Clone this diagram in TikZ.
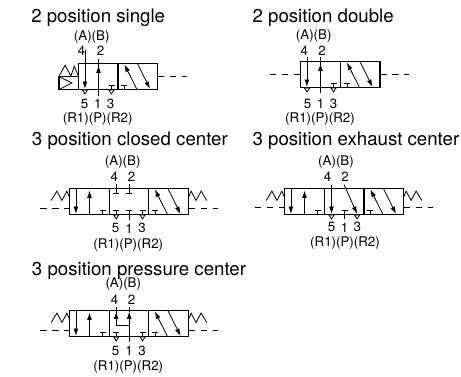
\documentclass[tikz,border=0pt]{standalone}
\usepackage{fontspec}
\setmainfont{TeX Gyre Heros}
\usetikzlibrary{arrows.meta}

\tikzset{
	body/.style={draw=black, line width=0.8pt},
	port/.style={draw=black, line width=0.6pt},
	flow/.style={port, -{Latex[length=5.5pt,width=3.6pt]}},
	pilot/.style={draw=black, line width=0.6pt, dash pattern=on 5pt off 4pt},
	title/.style={anchor=base west, inner sep=0pt, font=\fontsize{14pt}{16pt}\selectfont},
	portlabel/.style={inner sep=0pt, font=\fontsize{10pt}{12pt}\selectfont},
	pics/tee/.style={code={
		\draw[port] (-3,21.5) -- (3,21.5) (0,21.5) -- (0,26);
	}},
	pics/vent/.style={code={
		\draw[port, fill=white] (-2.6,26.4) -- (2.6,26.4) -- (0,30.4) -- cycle;
	}},
	pics/straightcell/.style={code={
		\draw[flow] (6.4,0) -- (6.4,25.4);
		\draw[flow] (20,26) -- (20,2);
		\pic at (33,0) {tee};
	}},
	pics/crosscell/.style={code={
		\pic at (6.4,0) {tee};
		\draw[flow] (19,26) -- (6.4,1);
		\draw[flow] (19.4,0) -- (32,25.4);
	}},
	pics/springleft/.style={code={
		\draw[port] (0,12) -- (5.7,2.6) -- (10.7,12) -- (15.7,2.6) -- (18.3,9);
	}},
	pics/springright/.style={code={
		\draw[port] (0,9) -- (2.6,2.6) -- (7.6,12) -- (12.6,2.6) -- (18.3,12);
	}}
}

\begin{document}
\begin{tikzpicture}[x=0.75pt, y=-0.75pt]
	\useasboundingbox (0,0) rectangle (461,376);

	% --- 2 position single ---
	\node[title] (titleA) at (31,22.7) {2 position single};
	\begin{scope}[shift={(78.5,63.5)}]
		\draw[body] (0,0) rectangle (79,26);
		\draw[body] (39.5,0) -- (39.5,26);
		\pic {straightcell};
		\pic at (39.5,0) {crosscell};
		\draw[port] (6.4,-14) -- (6.4,0);
		\draw[port] (20,-5) -- (20,32);
		\pic at (6.4,0) {vent};
		\pic at (33,0) {vent};
		% solenoid
		\draw[body] (-19.5,12.7) rectangle (0,26);
		\draw[port] (-19,13.4) -- (-6.6,19.4) -- (-19,26);
		\draw[port] (-19.5,12.7) -- (-13.3,1.7) -- (-7.6,12.7) -- (-4.3,2.7) -- (0,12.7);
		\draw[pilot] (79,12.7) -- (108,12.7);
	\end{scope}
	\node[portlabel] (aA) at (91.7,36.7) {(A)(B)};
	\node[portlabel] (aFour) at (81.7,51) {4};
	\node[portlabel] (aTwo) at (100.7,51) {2};
	\node[portlabel] (aFive) at (84.5,104) {5};
	\node[portlabel] (aOne) at (97.9,104) {1};
	\node[portlabel] (aThree) at (110.5,104) {3};
	\node[portlabel] (aR) at (97.7,119.3) {(R1)(P)(R2)};

	% --- 2 position double ---
	\node[title] (titleB) at (252.3,22.7) {2 position double};
	\begin{scope}[shift={(300.5,61.5)}]
		\draw[body] (0,0) rectangle (79.5,26);
		\draw[body] (40,0) -- (40,26);
		\pic {straightcell};
		\pic at (40,0) {crosscell};
		\draw[port] (6.6,-5) -- (6.6,0);
		\draw[port] (20,-5) -- (20,31);
		\pic at (6.6,0) {vent};
		\pic at (33,0) {vent};
		\draw[pilot] (-30.7,13) -- (0,13);
		\draw[pilot] (79.5,13) -- (108,13);
	\end{scope}
	\node[portlabel] (bA) at (313.7,36) {(A)(B)};
	\node[portlabel] (bFour) at (304.3,50.7) {4};
	\node[portlabel] (bTwo) at (322,50.7) {2};
	\node[portlabel] (bFive) at (307.7,104) {5};
	\node[portlabel] (bOne) at (320.5,104) {1};
	\node[portlabel] (bThree) at (333.7,104) {3};
	\node[portlabel] (bR) at (320,119.3) {(R1)(P)(R2)};

	% --- 3 position closed center ---
	\node[title] (titleC) at (31.7,145.7) {3 position closed center};
	\begin{scope}[shift={(69.5,188.5)}]
		\draw[body] (0,0) rectangle (119,26);
		\draw[body] (40,0) -- (40,26) (79,0) -- (79,26);
		\pic {straightcell};
		\pic at (79,0) {crosscell};
		\draw[port] (46.7,-5) -- (46.7,5) (43.7,5) -- (49.7,5);
		\draw[port] (59.7,-5) -- (59.7,5) (56.7,5) -- (62.7,5);
		\pic at (46.7,0) {tee};
		\pic at (59.7,0) {tee};
		\pic at (73,0) {tee};
		\draw[port] (59.7,26) -- (59.7,31);
		\pic at (46.7,0) {vent};
		\pic at (73,0) {vent};
		\pic at (-18.3,0) {springleft};
		\pic at (119,0) {springright};
		\draw[pilot] (-29.3,19.5) -- (0,19.5);
		\draw[pilot] (119,19.5) -- (148,19.5);
	\end{scope}
	\node[portlabel] (cA) at (122.7,161.7) {(A)(B)};
	\node[portlabel] (cFour) at (114.3,176.7) {4};
	\node[portlabel] (cTwo) at (131.7,176.7) {2};
	\node[portlabel] (cFive) at (115.7,228.3) {5};
	\node[portlabel] (cOne) at (129,228.3) {1};
	\node[portlabel] (cThree) at (142,228.3) {3};
	\node[portlabel] (cR) at (128.3,245) {(R1)(P)(R2)};

	% --- 3 position exhaust center ---
	\node[title] (titleD) at (252.3,145.7) {3 position exhaust center};
	\begin{scope}[shift={(284.5,188.5)}]
		\draw[body] (0,0) rectangle (119,26);
		\draw[body] (40,0) -- (40,26) (79.5,0) -- (79.5,26);
		\pic {straightcell};
		\pic at (79.5,0) {crosscell};
		\draw[flow] (47,-4) -- (47,25.4);
		\draw[flow] (59.5,-4) -- (72.6,25.4);
		\pic at (60,0) {tee};
		\draw[port] (60,26) -- (60,30.5);
		\pic at (47,0) {vent};
		\pic at (72.6,0) {vent};
		\pic at (-18.3,0) {springleft};
		\pic at (119,0) {springright};
		\draw[pilot] (-29.7,18.5) -- (0,18.5);
		\draw[pilot] (119,18.5) -- (148,18.5);
	\end{scope}
	\node[portlabel] (dA) at (336,161.7) {(A)(B)};
	\node[portlabel] (dFour) at (327.7,176.7) {4};
	\node[portlabel] (dTwo) at (345,176.7) {2};
	\node[portlabel] (dFive) at (331.7,227.3) {5};
	\node[portlabel] (dOne) at (344.7,227.3) {1};
	\node[portlabel] (dThree) at (357.3,227.3) {3};
	\node[portlabel] (dR) at (345,243.3) {(R1)(P)(R2)};

	% --- 3 position pressure center ---
	\node[title] (titleE) at (31.7,275) {3 position pressure center};
	\begin{scope}[shift={(69.5,310.5)}]
		\draw[body] (0,0) rectangle (119,26);
		\draw[body] (40,0) -- (40,26) (79,0) -- (79,26);
		\pic {straightcell};
		\pic at (79,0) {crosscell};
		\draw[flow] (46.7,14.5) -- (46.7,1);
		\draw[flow] (59.7,31) -- (59.7,1);
		\draw[port] (46.7,-4) -- (46.7,14.5) -- (59.7,14.5);
		\draw[port] (59.7,-4) -- (59.7,1);
		\pic at (46.7,0) {tee};
		\pic at (73,0) {tee};
		\pic at (46.7,0) {vent};
		\pic at (73,0) {vent};
		\pic at (-18.3,0) {springleft};
		\pic at (119,0) {springright};
		\draw[pilot] (-29.3,19.5) -- (0,19.5);
		\draw[pilot] (119,19.5) -- (148,19.5);
	\end{scope}
	\node[portlabel] (eA) at (123.3,284) {(A)(B)};
	\node[portlabel] (eFour) at (114.7,300) {4};
	\node[portlabel] (eTwo) at (131.7,300) {2};
	\node[portlabel] (eFive) at (115.7,351) {5};
	\node[portlabel] (eOne) at (129,351) {1};
	\node[portlabel] (eThree) at (142,351) {3};
	\node[portlabel] (eR) at (128.3,367.3) {(R1)(P)(R2)};
\end{tikzpicture}
\end{document}
